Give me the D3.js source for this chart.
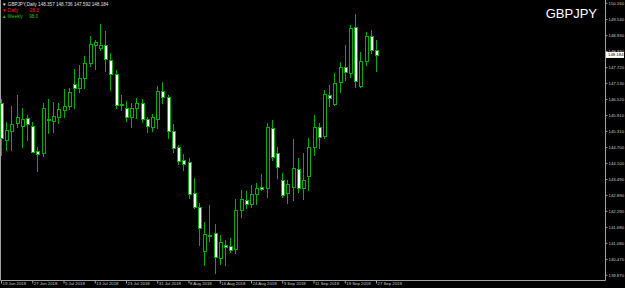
<!DOCTYPE html>
<html>
<head>
<meta charset="utf-8">
<script src="https://cdn.jsdelivr.net/npm/d3@7/dist/d3.min.js"></script>
<style>
body { margin: 0; background: #000; }
svg { display: block; }
</style>
</head>
<body>
<div class="d3"></div>
<script>
// trading days shown on the chart
var dates = [
	"2018-06-19","2018-06-20","2018-06-21","2018-06-22","2018-06-25","2018-06-26","2018-06-27","2018-06-28","2018-06-29",
	"2018-07-02","2018-07-03","2018-07-04","2018-07-05","2018-07-06","2018-07-09","2018-07-10","2018-07-11","2018-07-12",
	"2018-07-13","2018-07-16","2018-07-17","2018-07-18","2018-07-19","2018-07-20","2018-07-23","2018-07-24","2018-07-25",
	"2018-07-26","2018-07-27","2018-07-30","2018-07-31",
	"2018-08-01","2018-08-02","2018-08-03","2018-08-06","2018-08-07","2018-08-08","2018-08-09","2018-08-10","2018-08-13",
	"2018-08-14","2018-08-15","2018-08-16","2018-08-17","2018-08-20","2018-08-21","2018-08-22","2018-08-23","2018-08-24",
	"2018-08-27","2018-08-28","2018-08-29","2018-08-30","2018-08-31",
	"2018-09-03","2018-09-04","2018-09-05","2018-09-06","2018-09-07","2018-09-10","2018-09-11","2018-09-12","2018-09-13",
	"2018-09-14","2018-09-17","2018-09-18","2018-09-19","2018-09-20","2018-09-21","2018-09-24","2018-09-25","2018-09-26",
	"2018-09-27"
];
var opens = [
	146.376,144.984,145.317,145.620,145.514,145.786,145.506,144.549,144.492,145.737,145.695,145.847,146.100,146.252,147.086,
	146.921,147.300,147.867,148.560,148.435,148.560,147.992,147.451,146.320,146.187,145.824,146.165,146.354,145.771,145.468,
	145.771,146.819,146.594,145.306,144.700,144.208,144.121,142.949,142.419,140.765,141.362,141.435,140.512,140.992,140.943,
	140.830,142.317,142.695,142.555,142.911,143.198,143.138,145.408,144.462,143.452,142.949,143.198,143.868,143.138,143.603,
	144.689,145.468,145.128,146.668,146.346,147.171,147.716,147.512,149.229,147.020,147.954,148.900,148.357
];
var highs = [
	146.516,145.658,146.252,146.668,146.187,145.911,145.658,144.700,146.354,146.509,146.414,146.376,146.895,146.933,147.640,
	147.803,148.143,148.911,148.749,149.343,149.101,148.246,147.614,146.668,146.441,146.354,146.543,146.505,145.847,145.949,
	147.020,147.171,146.668,145.571,144.778,144.435,144.295,143.516,142.593,141.851,142.506,141.787,141.373,141.184,141.246,
	142.721,143.073,143.035,143.262,143.327,143.667,145.597,145.722,144.712,143.728,143.452,144.992,144.273,144.462,145.032,
	145.911,145.597,146.846,147.046,147.489,147.928,148.560,149.316,149.732,148.306,149.063,149.127,148.736
];
var lows = [
	144.398,144.587,144.587,145.468,144.712,144.965,144.511,143.811,144.379,145.230,145.281,145.597,145.847,146.138,146.176,
	146.793,146.921,147.776,147.651,148.370,147.578,146.857,146.176,146.115,145.684,145.468,145.786,145.646,145.281,145.317,
	145.408,146.354,145.032,144.522,144.048,143.830,142.759,142.381,140.992,140.236,141.159,139.933,140.273,140.236,140.739,
	140.678,142.042,142.404,142.442,142.544,143.073,142.820,144.208,143.516,142.820,142.570,142.695,143.009,142.733,143.073,
	144.398,144.674,145.032,146.252,146.289,146.793,147.235,147.362,146.982,146.982,147.803,148.246,147.592
];
var closes = [
	145.041,145.343,145.559,145.835,145.760,145.559,144.530,144.435,146.195,145.760,145.873,146.138,146.252,146.772,146.946,
	147.300,147.867,148.586,148.662,148.548,148.019,147.462,146.289,146.335,145.824,146.165,146.354,145.760,145.497,145.824,
	146.819,146.594,145.306,144.662,144.184,144.059,142.922,142.442,141.647,141.397,141.380,140.540,141.121,140.918,140.803,
	142.317,142.733,142.544,142.922,143.138,143.111,145.468,144.311,143.934,142.873,143.289,143.917,143.160,143.452,144.689,
	145.446,145.090,146.694,146.554,147.141,147.716,147.549,149.191,147.197,147.954,148.900,148.370,148.184
];
// axis labels
var priceTicks = [150.160,149.540,148.930,148.330,147.720,147.130,146.520,145.910,145.310,144.700,
	144.100,143.490,142.890,142.290,141.680,141.080,140.470,139.870];
var dateTicks = ["2018-06-19","2018-06-27","2018-07-05","2018-07-13","2018-07-23","2018-07-31","2018-08-08",
	"2018-08-16","2018-08-24","2018-09-03","2018-09-11","2018-09-19","2018-09-27"];
var lastPrice = 148.184;

var w = 625, h = 288;
var plotRight = 605, plotBottom = 280;
var green = "#00b000";
var font = "Liberation Sans, Arial, sans-serif";

var data = dates.map((d, i) => ({date: d, o: opens[i], h: highs[i], l: lows[i], c: closes[i]}));

var svg = d3.select(".d3")
	.append("svg")
	.attr("width", w)
	.attr("height", h)
	.style("background", "#000");

var xScale = d3.scalePoint()
	.domain(dates)
	.range([2, 377]);
var yScale = d3.scaleLinear()
	.domain([139.870, 150.160])
	.range([274.7, 2.7]);

// frame
svg.append("path")
	.attr("d", "M0.5,0 V" + (plotBottom + 0.5) + " H" + (plotRight + 0.5) + " V0")
	.attr("fill", "none")
	.attr("stroke", "#a0a0a0")
	.attr("stroke-width", 1);

var candles = svg.append("g").attr("id", "candles");

var cg = candles.selectAll("g")
	.data(data)
	.enter().append("g");

// wicks
cg.append("line")
	.attr("x1", d => Math.round(xScale(d.date)) - 0.5)
	.attr("x2", d => Math.round(xScale(d.date)) - 0.5)
	.attr("y1", d => Math.round(yScale(d.h)))
	.attr("y2", d => Math.round(yScale(d.l)) + 1)
	.attr("stroke", green)
	.attr("stroke-width", 1);

// bodies: bull = black, bear = white
cg.append("rect")
	.attr("x", d => Math.round(xScale(d.date)) - 1.5)
	.attr("width", 3)
	.attr("y", d => Math.round(yScale(Math.max(d.o, d.c))) + 0.5)
	.attr("height", d => Math.max(1, Math.round(yScale(Math.min(d.o, d.c))) - Math.round(yScale(Math.max(d.o, d.c)))))
	.attr("fill", d => d.c >= d.o ? "#000" : "#fff")
	.attr("stroke", green)
	.attr("stroke-width", 1);

// price axis
var yAxis = d3.axisRight(yScale)
	.tickValues(priceTicks)
	.tickSize(2)
	.tickPadding(1)
	.tickFormat(d3.format(".3f"));

var ya = svg.append("g")
	.attr("class", "axis")
	.attr("transform", "translate(" + (plotRight + 0.5) + ",0)")
	.call(yAxis);
ya.select(".domain").remove();
ya.selectAll("line").attr("stroke", "#a0a0a0");
ya.selectAll("text")
	.attr("fill", "#c8c8c8")
	.attr("font-family", font)
	.attr("font-size", "4.3px");

// date axis
var fmtDate = d3.timeFormat("%-d %b %Y");
var parse = d3.timeParse("%Y-%m-%d");
var xAxis = d3.axisBottom(xScale)
	.tickValues(dateTicks)
	.tickSize(3)
	.tickFormat(d => fmtDate(parse(d)));

var xa = svg.append("g")
	.attr("class", "axis")
	.attr("transform", "translate(-1," + (plotBottom + 0.5) + ")")
	.call(xAxis);
xa.select(".domain").remove();
xa.selectAll("line").attr("stroke", "#a0a0a0");
xa.selectAll("text")
	.attr("fill", "#c8c8c8")
	.attr("font-family", font)
	.attr("font-size", "4.3px")
	.attr("text-anchor", "start")
	.attr("x", 1)
	.attr("y", 1.5)
	.attr("dy", "0.71em");

// current price marker
var yLast = yScale(lastPrice);
svg.append("rect")
	.attr("x", plotRight + 1)
	.attr("y", yLast - 3)
	.attr("width", 18)
	.attr("height", 6)
	.attr("fill", "#fff");
svg.append("text")
	.attr("x", plotRight + 3)
	.attr("y", yLast)
	.attr("dy", "0.35em")
	.attr("fill", "#000")
	.attr("font-family", font)
	.attr("font-size", "4.3px")
	.text(d3.format(".3f")(lastPrice));

// symbol watermark
svg.append("text")
	.attr("x", plotRight - 8)
	.attr("y", 18)
	.attr("text-anchor", "end")
	.attr("fill", "#fff")
	.attr("font-family", font)
	.attr("font-size", "13px")
	.text("GBPJPY");

// header lines
var header = svg.append("g")
	.attr("font-family", font)
	.attr("font-size", "4.6px");
header.append("text")
	.attr("x", 2).attr("y", 6)
	.attr("fill", "#e0e0e0")
	.text("\u25BC GBPJPY,Daily  " + [opens[72], highs[72], lows[72], closes[72]].map(d3.format(".3f")).join(" "));
header.append("text")
	.attr("x", 2).attr("y", 12)
	.attr("fill", "#ff2020")
	.attr("xml:space", "preserve")
	.text("\u25BC Daily        -28.3");
header.append("text")
	.attr("x", 2).attr("y", 18)
	.attr("fill", "#20c020")
	.attr("xml:space", "preserve")
	.text("\u25B2 Weekly     98.0");
</script>
</body>
</html>
